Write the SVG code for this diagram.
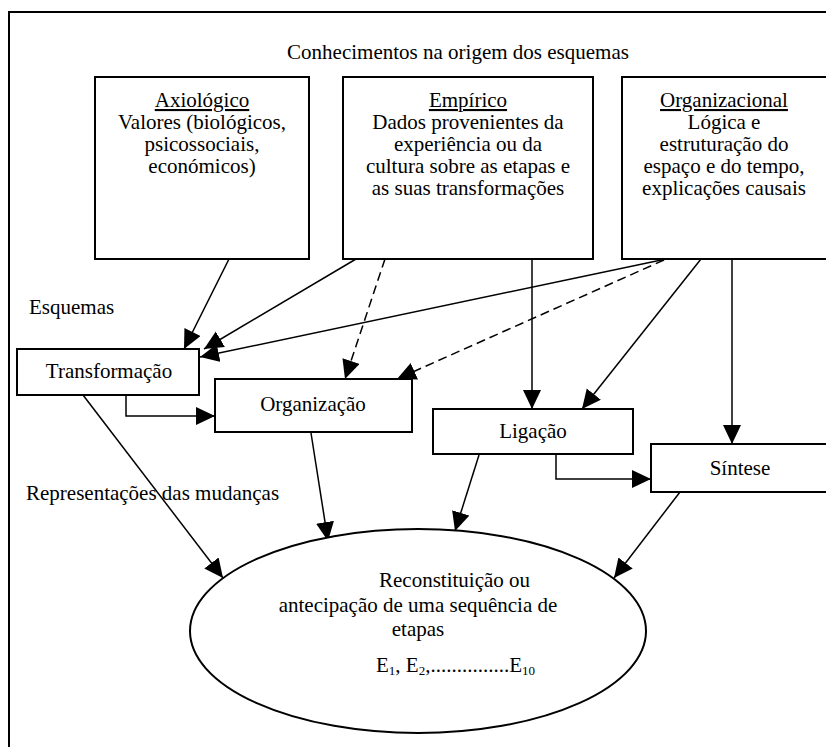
<svg xmlns="http://www.w3.org/2000/svg" width="826" height="747" viewBox="0 0 826 747">
<defs>
<style>
text{font-family:"Liberation Serif","Times New Roman",serif;font-size:21px;fill:#000}
.c{text-anchor:middle}
.u{text-decoration:underline}
.box{fill:#fff;stroke:#000;stroke-width:2}
.ln{fill:none;stroke:#000;stroke-width:1.5}
.dash{stroke-dasharray:9 5}
.sub{font-size:13px}
</style>
<marker id="ah" markerUnits="userSpaceOnUse" markerWidth="20" markerHeight="20" refX="19" refY="9" orient="auto">
<path d="M0,0 L19,9 L0,18 Z" fill="#000"/>
</marker>
</defs>
<rect width="826" height="747" fill="#fff"/>
<rect x="9" y="12" width="830" height="750" fill="none" stroke="#000" stroke-width="2"/>
<text x="458" y="59" class="c">Conhecimentos na origem dos esquemas</text>
<text x="29" y="314">Esquemas</text>
<text x="26" y="500">Representações das mudanças</text>

<g id="axiologico">
<rect class="box" x="95" y="77" width="214" height="182"/>
<text class="c" x="202" y="107"><tspan class="u">Axiológico</tspan><tspan x="202" dy="22">Valores (biológicos,</tspan><tspan x="202" dy="22">psicossociais,</tspan><tspan x="202" dy="22">económicos)</tspan></text>
</g>
<g id="empirico">
<rect class="box" x="343" y="77" width="250" height="182"/>
<text class="c" x="468" y="107"><tspan class="u">Empírico</tspan><tspan x="468" dy="22">Dados provenientes da</tspan><tspan x="468" dy="22">experiência ou da</tspan><tspan x="468" dy="22">cultura sobre as etapas e</tspan><tspan x="468" dy="22">as suas transformações</tspan></text>
</g>
<g id="organizacional">
<rect class="box" x="622" y="77" width="210" height="182"/>
<text class="c" x="724" y="107"><tspan class="u">Organizacional</tspan><tspan x="724" dy="22">Lógica e</tspan><tspan x="724" dy="22">estruturação do</tspan><tspan x="724" dy="22">espaço e do tempo,</tspan><tspan x="724" dy="22">explicações causais</tspan></text>
</g>

<g id="connectors">
<line class="ln" x1="229" y1="259" x2="184" y2="349" marker-end="url(#ah)"/>
<line class="ln" x1="356" y1="259" x2="204" y2="349" marker-end="url(#ah)"/>
<line class="ln" x1="666" y1="259" x2="200" y2="357" marker-end="url(#ah)"/>
<line class="ln dash" x1="385" y1="259" x2="345" y2="379" marker-end="url(#ah)"/>
<line class="ln dash" x1="664" y1="260" x2="397" y2="379" marker-end="url(#ah)"/>
<line class="ln" x1="532" y1="259" x2="532" y2="409" marker-end="url(#ah)"/>
<line class="ln" x1="701" y1="259" x2="582" y2="409" marker-end="url(#ah)"/>
<line class="ln" x1="732" y1="259" x2="732" y2="444" marker-end="url(#ah)"/>
<polyline class="ln" points="126,395 126,416 215,416" marker-end="url(#ah)"/>
<polyline class="ln" points="556,454 556,479 651,479" marker-end="url(#ah)"/>
<line class="ln" x1="83" y1="395" x2="223" y2="578" marker-end="url(#ah)"/>
<line class="ln" x1="311" y1="433" x2="328" y2="541" marker-end="url(#ah)"/>
<line class="ln" x1="479" y1="455" x2="455" y2="531" marker-end="url(#ah)"/>
<line class="ln" x1="680" y1="492" x2="614" y2="578" marker-end="url(#ah)"/>
</g>

<g id="transformacao">
<rect class="box" x="17" y="349" width="182" height="46"/>
<text class="c" x="109" y="378">Transformação</text>
</g>
<g id="organizacao">
<rect class="box" x="215" y="379" width="197" height="53"/>
<text class="c" x="313" y="411">Organização</text>
</g>
<g id="ligacao">
<rect class="box" x="433" y="409" width="200" height="45"/>
<text class="c" x="533" y="438">Ligação</text>
</g>
<g id="sintese">
<rect class="box" x="651" y="444" width="180" height="48"/>
<text class="c" x="740" y="475">Síntese</text>
</g>
<g id="reconstituicao">
<ellipse cx="418" cy="631" rx="228" ry="102" fill="#fff" stroke="#000" stroke-width="2"/>
<text x="379" y="587">Reconstituição ou</text>
<text class="c" x="418" y="612">antecipação de uma sequência de</text>
<text class="c" x="418" y="636">etapas</text>
<text x="376" y="672">E<tspan class="sub" dy="3">1</tspan><tspan dy="-3">, E</tspan><tspan class="sub" dy="3">2</tspan><tspan dy="-3">,...............E</tspan><tspan class="sub" dy="3">10</tspan></text>
</g>
</svg>
